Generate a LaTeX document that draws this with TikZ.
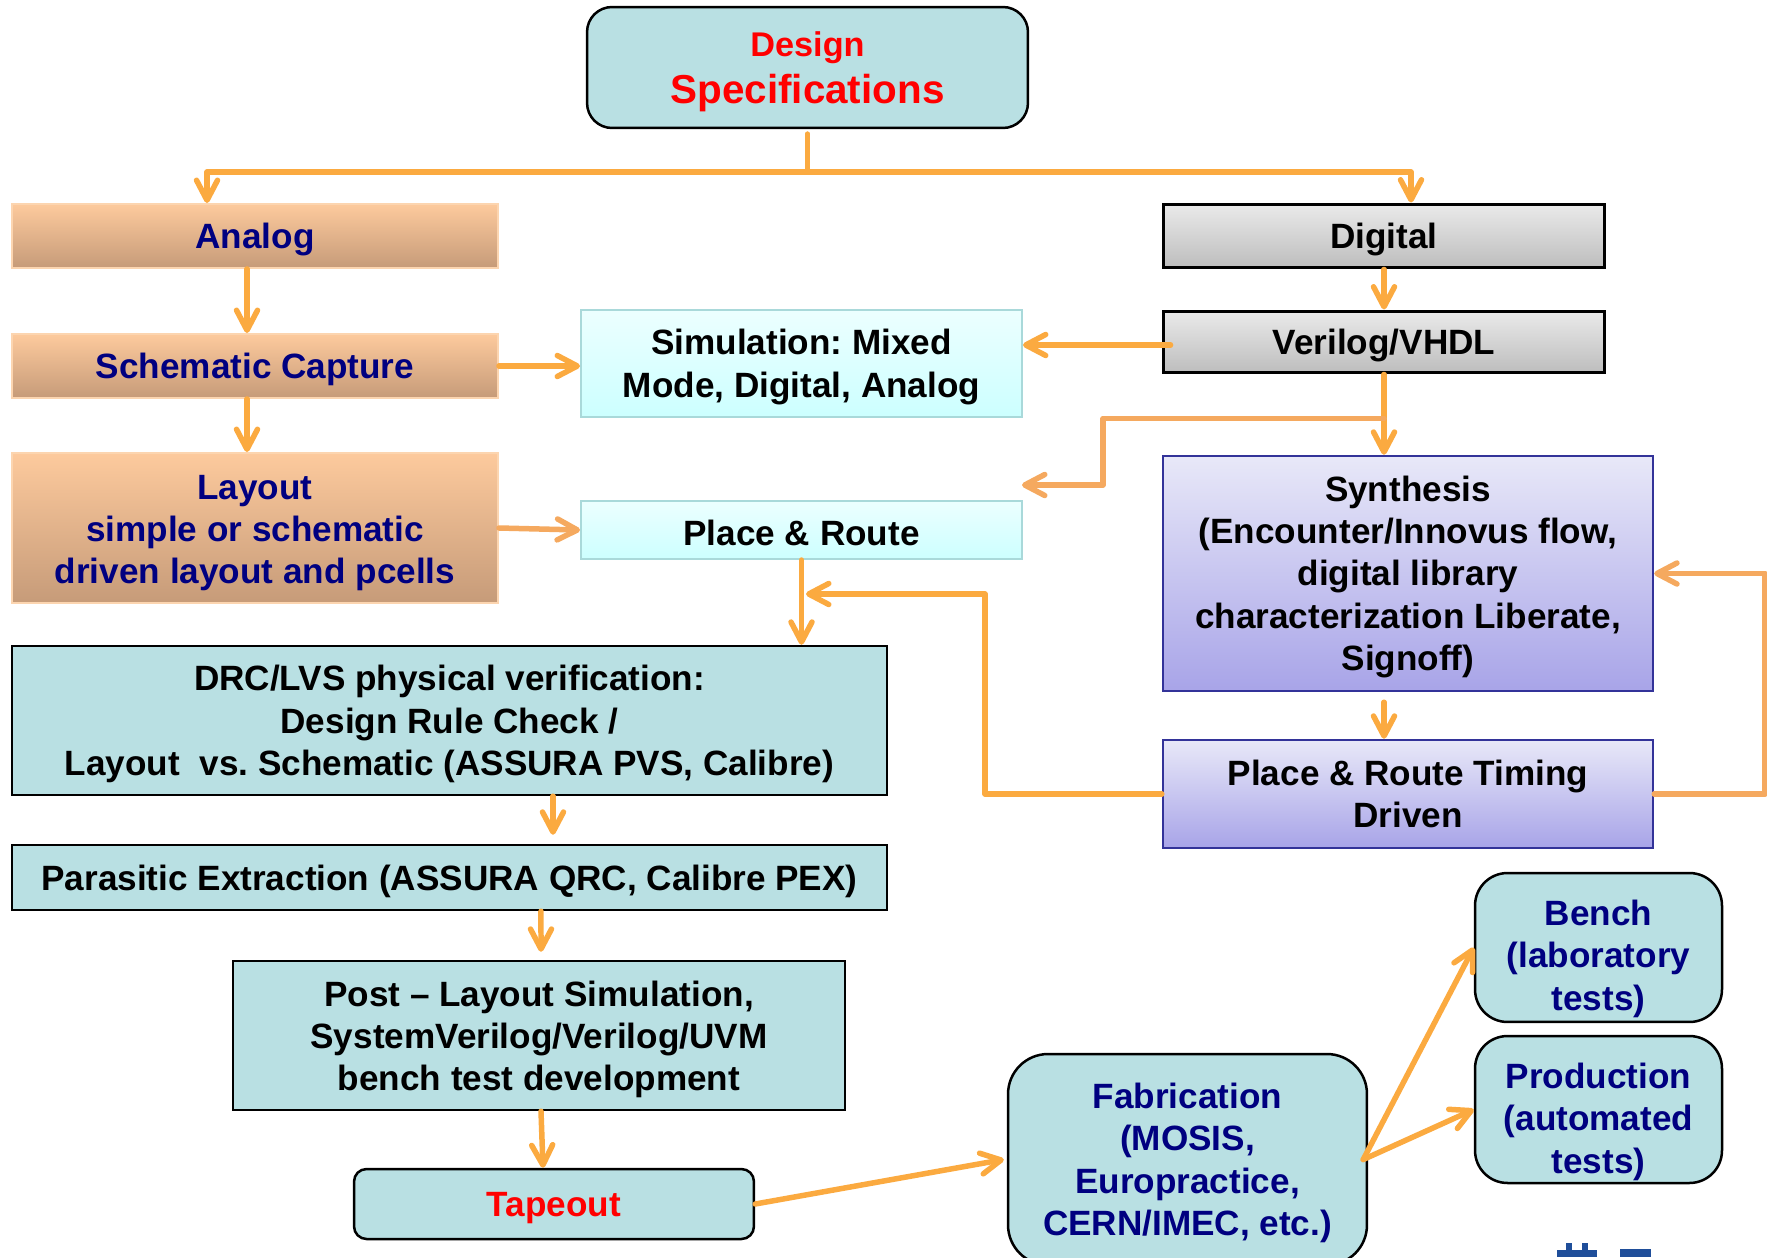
\documentclass[tikz,border=0pt]{standalone}
\usepackage{fontspec}
\setmainfont{Liberation Sans}
\usetikzlibrary{arrows.meta, positioning}
\definecolor{tealbox}{HTML}{B9E0E3}
\definecolor{peachtop}{HTML}{FDCA9D}
\definecolor{peachbot}{HTML}{C69B79}
\definecolor{peachline}{HTML}{FCD5B0}
\definecolor{graytop}{HTML}{EAEAEA}
\definecolor{graybot}{HTML}{BDBDBD}
\definecolor{cyantop}{HTML}{ECFFFF}
\definecolor{cyanbot}{HTML}{CCFFFF}
\definecolor{cyanline}{HTML}{A9D9DA}
\definecolor{synthtop}{HTML}{E8E8F8}
\definecolor{synthbot}{HTML}{A8A4E8}
\definecolor{synthline}{HTML}{333399}
\definecolor{navytext}{HTML}{000080}
\definecolor{linkorange}{HTML}{FBAA40}
\definecolor{paleorange}{HTML}{F5A95F}
\definecolor{logoblue}{HTML}{1F4E9A}
\newcommand{\boxstrut}[1][18.4pt]{\rule{0pt}{#1}}
\tikzstyle{flowbox} = [draw=black, line width=0.05cm, fill=tealbox, inner sep=0pt, align=center, execute at begin node=\boxstrut]
\tikzstyle{roundbox} = [flowbox, rounded corners=0.5cm]
\tikzstyle{analogbox} = [draw=peachline, line width=0.04cm, top color=peachtop, bottom color=peachbot, text=navytext, inner sep=0pt, align=center, execute at begin node=\boxstrut]
\tikzstyle{digitalbox} = [draw=black, line width=0.06cm, top color=graytop, bottom color=graybot, inner sep=0pt, align=center, execute at begin node=\boxstrut]
\tikzstyle{simbox} = [draw=cyanline, line width=0.04cm, top color=cyantop, bottom color=cyanbot, inner sep=0pt, align=center, execute at begin node=\boxstrut]
\tikzstyle{synthbox} = [draw=synthline, line width=0.05cm, top color=synthtop, bottom color=synthbot, inner sep=0pt, align=center, execute at begin node=\boxstrut]
\tikzstyle{link} = [draw=linkorange, line width=0.11cm, line cap=round, line join=round, -{Straight Barb[length=0.4cm,width=0.42cm,round]}]
\tikzstyle{palelink} = [link, draw=paleorange]

\begin{document}
\begin{tikzpicture}[x=0.02cm, y=-0.02cm, font=\fontsize{20}{24}\selectfont\bfseries\frenchspacing]
	\useasboundingbox (0,0) rectangle (1767,1257);
	% top of the flow
	\node [roundbox, minimum width=8.82cm, minimum height=2.42cm, text=red] (design) at (807.5,67.5) {{\fontsize{19.5}{24}\selectfont\boxstrut[19.3pt]Design}\\[3pt]{\fontsize{23}{26}\selectfont Specifications}};
	\node [analogbox, minimum width=9.72cm, minimum height=1.28cm] (analog) at (255,236) {Analog};
	\node [digitalbox, minimum width=8.84cm, minimum height=1.28cm] (digital) at (1384,236) {Digital};
	\node [analogbox, minimum width=9.72cm, minimum height=1.28cm] (schem) at (255,366) {Schematic Capture};
	\node [simbox, minimum width=8.82cm, minimum height=2.14cm] (sim) at (801.5,363.5) {\boxstrut Simulation: Mixed\\Mode, Digital, Analog};
	\node [digitalbox, minimum width=8.84cm, minimum height=1.24cm] (veri) at (1384,342) {Verilog/VHDL};
	\node [analogbox, minimum width=9.72cm, minimum height=3.0cm] (layout) at (255,528) {\boxstrut[19.7pt]Layout\\simple or schematic\\driven layout and pcells};
	\node [simbox, minimum width=8.82cm, minimum height=1.16cm] (pr) at (801.5,530) {Place \& Route};
	\node [synthbox, minimum width=9.8cm, minimum height=4.7cm] (synth) at (1408,573.5) {\boxstrut Synthesis\\(Encounter/Innovus flow,\\digital library\\characterization Liberate,\\Signoff)};
	% verification chain
	\node [flowbox, minimum width=17.5cm, minimum height=2.98cm] (drc) at (449.5,720.5) {\boxstrut DRC/LVS physical verification:\\Design Rule Check /\\Layout\ \ vs. Schematic (ASSURA PVS, Calibre)};
	\node [synthbox, minimum width=9.8cm, minimum height=2.16cm] (prt) at (1408,794) {Place \& Route Timing\\Driven};
	\node [flowbox, minimum width=17.5cm, minimum height=1.3cm] (para) at (449.5,877.5) {Parasitic Extraction (ASSURA QRC, Calibre PEX)};
	\node [flowbox, minimum width=12.24cm, minimum height=2.98cm] (post) at (539,1035.5) {\boxstrut[19.2pt]Post -- Layout Simulation,\\SystemVerilog/Verilog/UVM\\bench test development};
	\node [roundbox, rounded corners=0.25cm, minimum width=8.0cm, minimum height=1.4cm, text=red] (tape) at (554,1204) {Tapeout};
	\node [roundbox, rounded corners=0.8cm, minimum width=7.18cm, minimum height=4.22cm, text=navytext] (fab) at (1187.5,1159.5) {\boxstrut Fabrication\\(MOSIS,\\Europractice,\\CERN/IMEC, etc.)};
	\node [roundbox, rounded corners=0.65cm, minimum width=4.94cm, minimum height=2.98cm, text=navytext] (bench) at (1598.5,947.5) {\boxstrut[27.4pt]Bench\\(laboratory\\tests)};
	\node [roundbox, rounded corners=0.65cm, minimum width=4.94cm, minimum height=2.94cm, text=navytext] (prod) at (1598.5,1109.5) {\boxstrut[28.6pt]Production\\(automated\\tests)};
	% free ends
	\coordinate (prin) at (1022,485);
	\coordinate (prtin) at (806,594);
	% connectors
	\draw [link] ([yshift=-0.1cm]design.south) -- ++(0,38) -| ([xshift=-0.96cm]analog.north);
	\draw [link] ([yshift=-0.1cm]design.south) -- ++(0,38) -| ([xshift=0.54cm]digital.north);
	\draw [link] ([xshift=-0.16cm]analog.south) -- ([xshift=-0.16cm]schem.north);
	\draw [link] ([xshift=-0.16cm]schem.south) -- ([xshift=-0.16cm]layout.north);
	\draw [link] (schem.east) -- (schem.east -| sim.west);
	\draw [link] (digital.south) -- (veri.north);
	\draw [link] ([xshift=0.18cm,yshift=-0.06cm]veri.west) -- ([yshift=-0.06cm]veri.west -| sim.east);
	\draw [link] (veri.south) -- (veri.south |- synth.north);
	\draw [palelink] ([yshift=-0.88cm]veri.south) -| (1103,485) -- (prin);
	\draw [palelink] (layout.east) -- (pr.west);
	\draw [link] (pr.south) -- (pr.south |- drc.north);
	\draw [link] ([xshift=-0.48cm,yshift=-0.2cm]synth.south) -- ([xshift=-0.48cm]prt.north);
	\draw [link] (prt.west) -| (985,594) -- (prtin);
	\draw [palelink] (prt.east) -- ++(111,0) |- (synth.east);
	\draw [link] ([xshift=2.07cm]drc.south) -- ([xshift=2.07cm,yshift=0.18cm]para.north);
	\draw [link] ([xshift=1.83cm]para.south) -- ([xshift=0.04cm,yshift=0.16cm]post.north);
	\draw [link] ([xshift=0.04cm]post.south) -- ([xshift=-0.22cm]tape.north);
	\draw [link] (tape.east) -- ([xshift=-0.06cm]fab.west);
	\draw [link] ([xshift=-0.1cm]fab.east) -- (bench.west);
	\draw [link] ([xshift=-0.1cm]fab.east) -- (prod.west);
	% logo corner
	\fill [logoblue] (1557,1250) rectangle (1597,1257);
	\fill [logoblue] (1566,1243) rectangle (1572,1250);
	\fill [logoblue] (1582,1243) rectangle (1588,1250);
	\fill [logoblue] (1620,1249) rectangle (1651,1257);
\end{tikzpicture}
\end{document}
